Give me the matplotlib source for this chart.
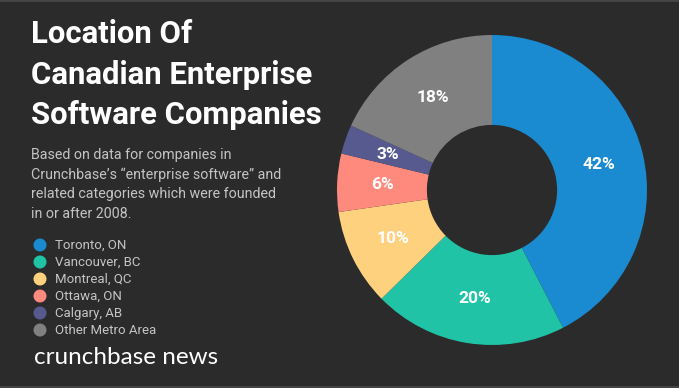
import matplotlib
matplotlib.use("Agg")
import matplotlib.pyplot as plt
from matplotlib.patches import Circle

# data
cities = ["Toronto, ON", "Vancouver, BC", "Montreal, QC", "Ottawa, ON", "Calgary, AB", "Other Metro Area"]
shares = [42, 20, 10, 6, 3, 18]
colors = ["#1a8bd0", "#20c3a6", "#fed17f", "#fe8a7d", "#575a8f", "#808080"]

title_lines = ["Location Of", "Canadian Enterprise", "Software Companies"]
subtitle_lines = ["Based on data for companies in",
                  "Crunchbase\u2019s \u201centerprise software\u201d and",
                  "related categories which were founded",
                  "in or after 2008."]

BG = "#2b2b2b"
W, H = 679, 388

fig = plt.figure(figsize=(W / 100, H / 100), dpi=100, facecolor=BG)

# pie axes, centre at (492, 190) px from top-left, radius 155 px
cx, cy, r = 492, 190, 155
ax = fig.add_axes([(cx - r) / W, (H - cy - r) / H, 2 * r / W, 2 * r / H])
ax.set_facecolor(BG)
total = sum(shares)
wedges, _, autotexts = ax.pie(shares, colors=colors, startangle=90, counterclock=False,
                              radius=1, wedgeprops=dict(width=0.58, linewidth=0),
                              pctdistance=0.71,
                              autopct=lambda p: f"{round(p * total / 100)}%",
                              textprops=dict(color="white", fontsize=12.5,
                                             fontweight="bold", family="Roboto"))
ax.set_xlim(-1, 1)
ax.set_ylim(-1, 1)
ax.axis("off")

# titles
for i, line in enumerate(title_lines):
    fig.text(31 / W, 1 - (34 + i * 40.5) / H, line, color="white", fontsize=22.4,
             fontweight="bold", family="Roboto", va="center", ha="left")

for i, line in enumerate(subtitle_lines):
    fig.text(31 / W, 1 - (155 + i * 19.5) / H, line, color="#c4c4c4", fontsize=10.3,
             family="Roboto", va="center", ha="left")

# legend
lax = fig.add_axes([0, 0, 1, 1], facecolor="none")
lax.set_xlim(0, W)
lax.set_ylim(H, 0)
lax.axis("off")
for i, (name, col) in enumerate(zip(cities, colors)):
    y = 245 + i * 17
    lax.add_patch(Circle((40, y), 6.5, color=col, lw=0))
    lax.text(55, y, name, color="#c4c4c4", fontsize=9.5, family="Roboto",
             va="center", ha="left")

lax.text(34, 358, "crunchbase news", color="white", fontsize=17.5, family="Lato",
         va="center", ha="left")

# thin frame lines top and bottom
lax.plot([0, W], [0.8, 0.8], color="#444444", lw=1.5)
lax.plot([0, W], [H - 0.8, H - 0.8], color="#444444", lw=1.5)

fig.savefig("out.png", dpi=100, facecolor=BG)
